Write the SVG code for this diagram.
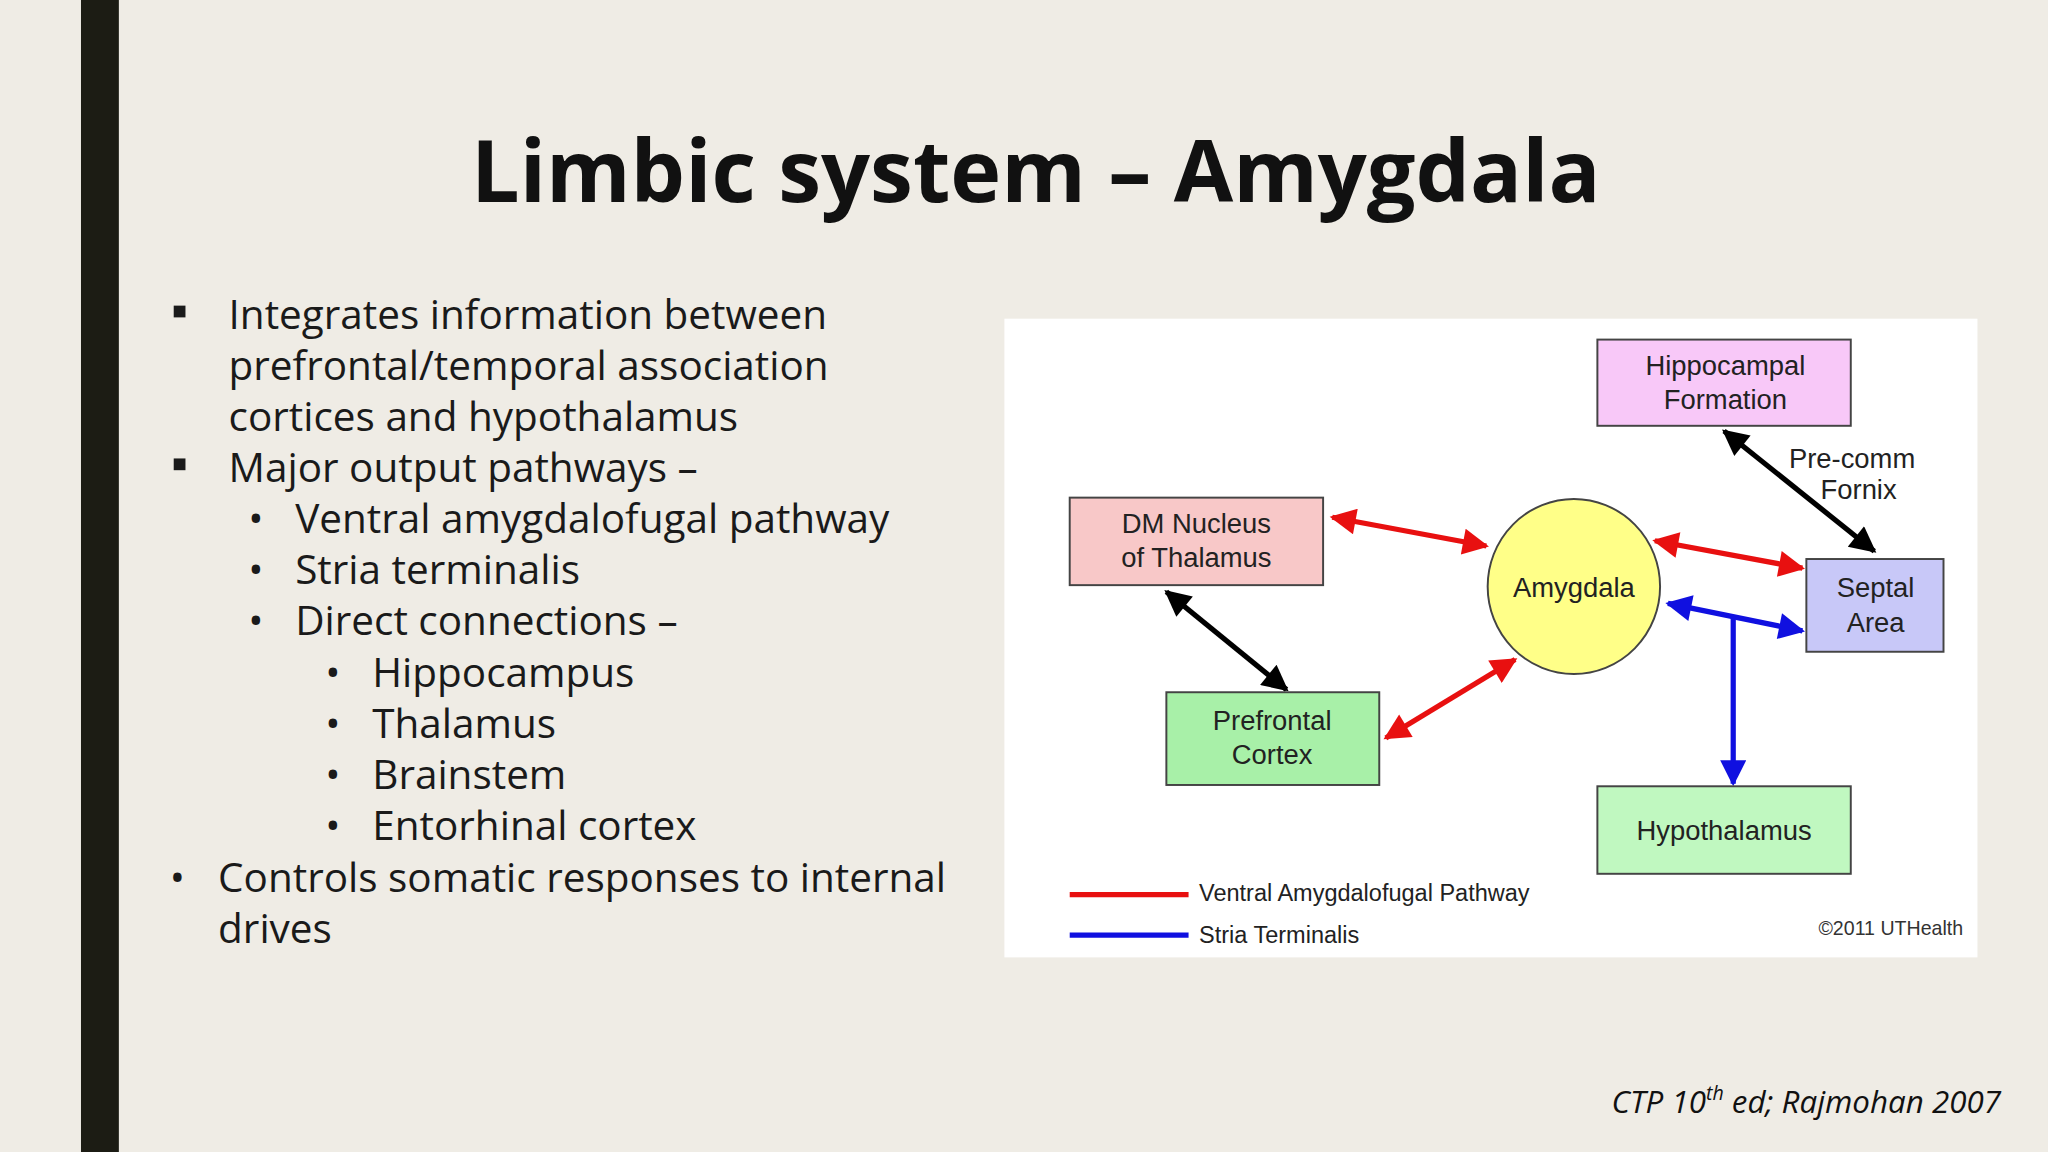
<svg xmlns="http://www.w3.org/2000/svg" width="2048" height="1152" viewBox="0 0 2048 1152">
<style>
.b{font-family:"Open Sans","Noto Sans",sans-serif;font-size:31px;fill:#1a1a1a}
.n{font-family:"Liberation Sans",Arial,sans-serif;font-size:21px;fill:#222;text-anchor:middle}
.box{stroke:#444;stroke-width:1.5}
.r{stroke:#e81010;stroke-width:4;fill:none;marker-start:url(#mr);marker-end:url(#mr)}
.k{stroke:#000;stroke-width:4;fill:none;marker-start:url(#mk);marker-end:url(#mk)}
.bl{stroke:#1010e0;stroke-width:4;fill:none}
</style>
<defs>
<marker id="mr" viewBox="0 0 10 10" refX="9" refY="5" markerWidth="26" markerHeight="20" markerUnits="userSpaceOnUse" orient="auto-start-reverse"><path d="M0,0L10,5L0,10Z" fill="#e81010"/></marker>
<marker id="mk" viewBox="0 0 10 10" refX="9" refY="5" markerWidth="26" markerHeight="20" markerUnits="userSpaceOnUse" orient="auto-start-reverse"><path d="M0,0L10,5L0,10Z" fill="#000"/></marker>
<marker id="mb" viewBox="0 0 10 10" refX="9" refY="5" markerWidth="26" markerHeight="20" markerUnits="userSpaceOnUse" orient="auto-start-reverse"><path d="M0,0L10,5L0,10Z" fill="#1010e0"/></marker>
</defs>
<rect width="2048" height="1152" fill="#efece5"/>
<g transform="scale(1.30612)">
<rect x="62" y="0" width="29" height="882" fill="#1c1c14"/>
<text x="793" y="155" text-anchor="middle" font-family="Open Sans,Noto Sans,sans-serif" font-weight="bold" font-size="66" fill="#111">Limbic system – Amygdala</text>
<g id="bullets">
<rect x="133" y="234" width="9" height="9" fill="#1a1a1a"/>
<text class="b" x="175" y="252">Integrates information between</text>
<text class="b" x="175" y="291">prefrontal/temporal association</text>
<text class="b" x="175" y="330">cortices and hypothalamus</text>
<rect x="133" y="351" width="9" height="9" fill="#1a1a1a"/>
<text class="b" x="175" y="369">Major output pathways –</text>
<text class="b" x="190" y="408">•</text><text class="b" x="226" y="408">Ventral amygdalofugal pathway</text>
<text class="b" x="190" y="447">•</text><text class="b" x="226" y="447">Stria terminalis</text>
<text class="b" x="190" y="486">•</text><text class="b" x="226" y="486">Direct connections –</text>
<text class="b" x="249" y="526">•</text><text class="b" x="285" y="526">Hippocampus</text>
<text class="b" x="249" y="565">•</text><text class="b" x="285" y="565">Thalamus</text>
<text class="b" x="249" y="604">•</text><text class="b" x="285" y="604">Brainstem</text>
<text class="b" x="249" y="643">•</text><text class="b" x="285" y="643">Entorhinal cortex</text>
<text class="b" x="130" y="683">•</text><text class="b" x="167" y="683">Controls somatic responses to internal</text>
<text class="b" x="167" y="722">drives</text>
</g>
<rect x="769" y="244" width="745" height="489" fill="#fff"/>
<g id="connectors">
<line class="r" x1="1020" y1="396" x2="1138" y2="418"/>
<line class="r" x1="1267" y1="414" x2="1380" y2="435"/>
<line class="r" x1="1061" y1="565" x2="1160" y2="505"/>
<line class="k" x1="893" y1="453" x2="985" y2="528"/>
<line class="k" x1="1320" y1="330" x2="1435" y2="422"/>
<line class="bl" x1="1277" y1="462" x2="1380" y2="483" marker-start="url(#mb)" marker-end="url(#mb)"/>
<line class="bl" x1="1327" y1="472" x2="1327" y2="600" marker-end="url(#mb)"/>
</g>
<g id="hippocampal"><rect class="box" x="1223" y="260" width="194" height="66" fill="#f8c8f8"/><text class="n" x="1321" y="287">Hippocampal</text><text class="n" x="1321" y="313">Formation</text></g>
<g id="dm"><rect class="box" x="819" y="381" width="194" height="67" fill="#f8c8c8"/><text class="n" x="916" y="408">DM Nucleus</text><text class="n" x="916" y="434">of Thalamus</text></g>
<g id="amygdala"><ellipse cx="1205" cy="449" rx="66" ry="67" fill="#ffff88" stroke="#444" stroke-width="1.5"/><text class="n" x="1205" y="457">Amygdala</text></g>
<g id="septal"><rect class="box" x="1383" y="428" width="105" height="71" fill="#c8c8f8"/><text class="n" x="1436" y="457">Septal</text><text class="n" x="1436" y="484">Area</text></g>
<g id="prefrontal"><rect class="box" x="893" y="530" width="163" height="71" fill="#a8f0a8"/><text class="n" x="974" y="559">Prefrontal</text><text class="n" x="974" y="585">Cortex</text></g>
<g id="hypothalamus"><rect class="box" x="1223" y="602" width="194" height="67" fill="#c0f8c0"/><text class="n" x="1320" y="643">Hypothalamus</text></g>
<text class="n" x="1418" y="358" font-size="18">Pre-comm</text>
<text class="n" x="1423" y="382" font-size="18">Fornix</text>
<g id="legend">
<line x1="819" y1="685" x2="910" y2="685" stroke="#e81010" stroke-width="4"/>
<line x1="819" y1="716" x2="910" y2="716" stroke="#1010e0" stroke-width="4"/>
<text x="918" y="690" font-family="Liberation Sans,Arial,sans-serif" font-size="18" fill="#222">Ventral Amygdalofugal Pathway</text>
<text x="918" y="722" font-family="Liberation Sans,Arial,sans-serif" font-size="18" fill="#222">Stria Terminalis</text>
<text x="1503" y="716" text-anchor="end" font-family="Liberation Sans,Arial,sans-serif" font-size="15" fill="#333">©2011 UTHealth</text>
</g>
<text x="1532" y="852" text-anchor="end" font-family="Open Sans,Noto Sans,sans-serif" font-style="italic" font-size="24" fill="#111">CTP 10<tspan font-size="15" dy="-10">th</tspan><tspan dy="10"> ed; Rajmohan 2007</tspan></text>
</g>
</svg>
